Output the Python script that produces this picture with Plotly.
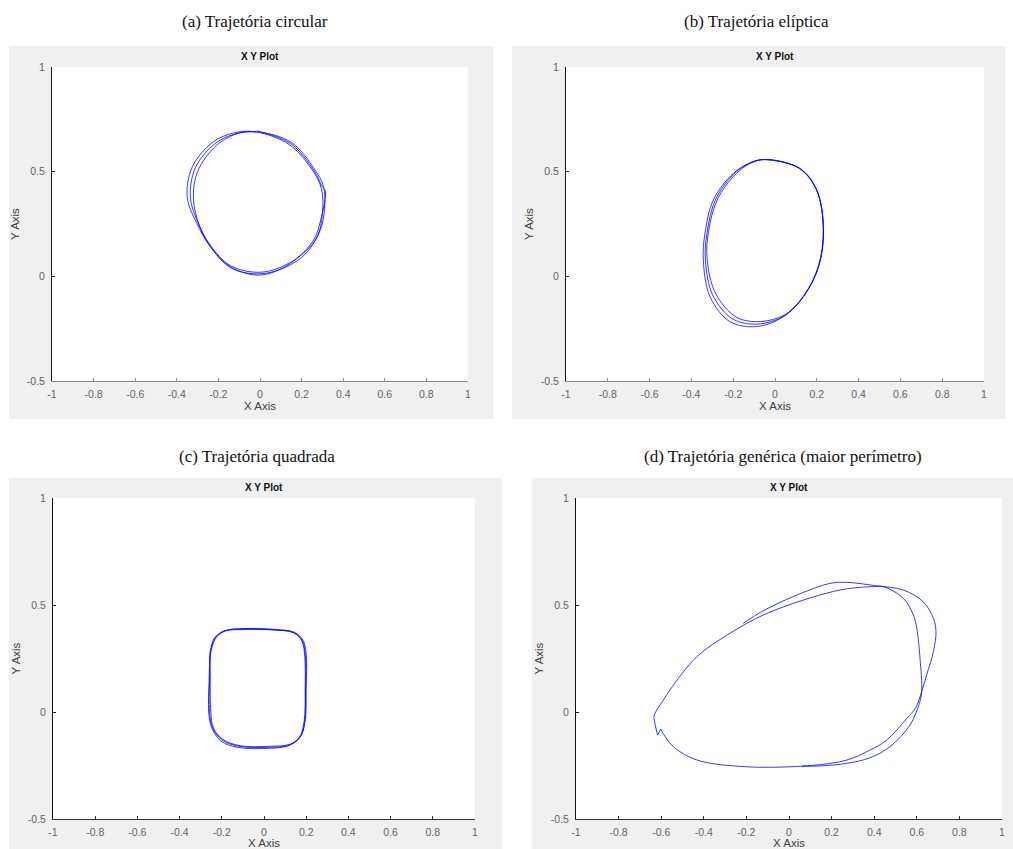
import plotly.graph_objects as go

W, H = 1013, 849

# ---------------- data ----------------
captions = ["(a) Trajetória circular", "(b) Trajetória elíptica",
            "(c) Trajetória quadrada", "(d) Trajetória genérica (maior perímetro)"]
plot_title = "X Y Plot"
x_label = "X Axis"
y_label = "Y Axis"
x_ticks = [-1, -0.8, -0.6, -0.4, -0.2, 0, 0.2, 0.4, 0.6, 0.8, 1]
x_tick_text = ["-1", "-0.8", "-0.6", "-0.4", "-0.2", "0", "0.2", "0.4", "0.6", "0.8", "1"]
y_ticks = [-0.5, 0, 0.5, 1]
y_tick_text = ["-0.5", "0", "0.5", "1"]

# (a) circular trajectory, three laps
circ_x = [-0.015, 0.146, 0.258, 0.300, 0.314, 0.292, 0.258, 0.146, 0.001, -0.143, -0.239, -0.304, -0.350, -0.325, -0.228, -0.127,
          -0.020, 0.140, 0.250, 0.295, 0.300, 0.270, 0.160, 0.010, -0.140, -0.240, -0.300, -0.335, -0.310, -0.215, -0.120,
          -0.010, 0.150, 0.260, 0.305, 0.310, 0.285, 0.200, 0.030, -0.130, -0.230, -0.290, -0.320, -0.300, -0.210, -0.100, -0.020]
circ_y = [0.695, 0.635, 0.508, 0.428, 0.410, 0.270, 0.174, 0.062, 0.006, 0.046, 0.142, 0.253, 0.380, 0.524, 0.640, 0.685,
          0.690, 0.630, 0.510, 0.420, 0.300, 0.180, 0.075, 0.020, 0.050, 0.150, 0.260, 0.380, 0.520, 0.635, 0.680,
          0.690, 0.640, 0.515, 0.430, 0.320, 0.210, 0.090, 0.015, 0.035, 0.130, 0.240, 0.370, 0.500, 0.625, 0.685, 0.690]

# (b) elliptical trajectory, three laps
elip_x = [-0.024, 0.120, 0.200, 0.231, 0.207, 0.135, 0.040, -0.088, -0.215, -0.311, -0.343, -0.335, -0.295, -0.199, -0.104,
          -0.030, 0.118, 0.200, 0.232, 0.208, 0.138, 0.045, -0.080, -0.200, -0.298, -0.333, -0.325, -0.283, -0.185, -0.095,
          -0.028, 0.119, 0.200, 0.232, 0.209, 0.140, 0.050, -0.070, -0.185, -0.285, -0.325, -0.318, -0.272, -0.170, -0.085, -0.025]
elip_y = [0.559, 0.516, 0.412, 0.221, 0.046, -0.097, -0.193, -0.240, -0.217, -0.097, 0.078, 0.206, 0.365, 0.492, 0.548,
          0.557, 0.515, 0.410, 0.220, 0.045, -0.095, -0.188, -0.228, -0.205, -0.090, 0.080, 0.210, 0.370, 0.500, 0.552,
          0.556, 0.514, 0.410, 0.220, 0.048, -0.090, -0.182, -0.216, -0.195, -0.080, 0.085, 0.215, 0.375, 0.505, 0.553, 0.558]

# (c) square trajectory, three laps
quad_x = [-0.255, -0.235, -0.190, -0.100, 0.050, 0.140, 0.180, 0.193, 0.195, 0.192, 0.170, 0.120, 0.020, -0.120, -0.200, -0.245, -0.258, -0.258,
          -0.250, -0.225, -0.180, -0.090, 0.060, 0.145, 0.185, 0.200, 0.200, 0.195, 0.175, 0.125, 0.030, -0.110, -0.195, -0.240, -0.252, -0.255,
          -0.253, -0.230, -0.185, -0.095, 0.055, 0.142, 0.182, 0.196, 0.197, 0.190, 0.168, 0.115, 0.015, -0.125, -0.205, -0.248, -0.262, -0.260, -0.256]
quad_y = [0.280, 0.345, 0.378, 0.385, 0.383, 0.370, 0.330, 0.260, 0.100, -0.050, -0.120, -0.155, -0.165, -0.160, -0.130, -0.070, 0.000, 0.150,
          0.290, 0.350, 0.380, 0.390, 0.385, 0.372, 0.335, 0.270, 0.110, -0.040, -0.110, -0.150, -0.160, -0.158, -0.128, -0.075, 0.000, 0.160,
          0.285, 0.348, 0.380, 0.388, 0.384, 0.371, 0.332, 0.265, 0.105, -0.045, -0.118, -0.157, -0.170, -0.165, -0.135, -0.072, 0.000, 0.150, 0.280]

# (d) generic trajectory (larger perimeter)
gen_x = [-0.215, -0.130, -0.042, 0.070, 0.192, 0.271, 0.350, 0.412, 0.537, 0.630, 0.678, 0.690, 0.678, 0.646, 0.623, 0.595,
         0.553, 0.459, 0.380, 0.270, 0.100, -0.199, -0.433, -0.543, -0.588, -0.602, -0.617, -0.628, -0.634, -0.621, -0.590,
         -0.559, -0.433, -0.277, -0.121, 0.067, 0.255, 0.396, 0.443, 0.537, 0.584, 0.600, 0.615, 0.623, 0.612, 0.568, 0.474,
         0.380, 0.270, 0.150, 0.060]
gen_y = [0.414, 0.468, 0.512, 0.560, 0.601, 0.606, 0.598, 0.589, 0.570, 0.515, 0.438, 0.375, 0.282, 0.173, 0.095, 0.020,
         -0.030, -0.131, -0.178, -0.225, -0.250, -0.256, -0.224, -0.162, -0.105, -0.080, -0.108, -0.060, -0.022, 0.009, 0.056,
         0.103, 0.258, 0.368, 0.453, 0.523, 0.573, 0.586, 0.586, 0.531, 0.453, 0.391, 0.251, 0.095, 0.040, -0.061, -0.162,
         -0.214, -0.240, -0.252, -0.253]
gen_corners = [25, 26]   # indices of the sharp zig-zag vertices

series = [(circ_x, circ_y), (elip_x, elip_y), (quad_x, quad_y), (gen_x, gen_y)]

# ---------------- layout (pixel boxes) ----------------
axes_px = [(52, 468, 67, 381), (566, 984, 67, 381), (53, 475, 498, 819), (576, 1002, 498, 819)]
panel_px = [(9, 493, 46, 419), (512, 1005, 46, 419), (9, 502, 478, 849), (532, 1013, 478, 849)]
caption_px = [(255, 22), (756, 22), (257, 456), (783, 456)]
xline_col = ["#8a8a8a", "#8a8a8a", "#333333", "#333333"]

fx = lambda p: p / W
fy = lambda p: 1 - p / H

fig = go.Figure()
shapes = []
annotations = []
layout = {}
line_style = dict(color="rgba(0,0,255,0.78)", width=1, shape="spline", smoothing=1)

for i in range(4):
    n = "" if i == 0 else str(i + 1)
    xs, ys = series[i]
    if i == 3:
        cuts = [0] + gen_corners + [len(xs) - 1]
        for a, b in zip(cuts[:-1], cuts[1:]):
            fig.add_trace(go.Scatter(x=xs[a:b + 1], y=ys[a:b + 1], mode="lines", xaxis="x" + n, yaxis="y" + n,
                                     line=line_style, showlegend=False, hoverinfo="skip"))
    else:
        fig.add_trace(go.Scatter(x=xs, y=ys, mode="lines", xaxis="x" + n, yaxis="y" + n,
                                 line=line_style, showlegend=False, hoverinfo="skip"))
    l, r, t, b = axes_px[i]
    tickfont = dict(family="Liberation Sans, Arial, sans-serif", size=10.5, color="#666666")
    titlefont = dict(family="Liberation Sans, Arial, sans-serif", size=11.5, color="#404040")
    layout["xaxis" + n] = dict(domain=[fx(l), fx(r)], anchor="y" + n, range=[-1, 1],
                              tickmode="array", tickvals=x_ticks, ticktext=x_tick_text,
                              ticks="inside", ticklen=3, tickcolor=xline_col[i],
                              showline=True, linecolor=xline_col[i], linewidth=1,
                              showgrid=False, zeroline=False, tickfont=tickfont,
                              ticklabelstandoff=3, automargin=False,
                              title=dict(text=x_label, font=titlefont, standoff=2),
                              fixedrange=True)
    layout["yaxis" + n] = dict(domain=[fy(b), fy(t)], anchor="x" + n, range=[-0.5, 1],
                              tickmode="array", tickvals=y_ticks, ticktext=y_tick_text,
                              ticks="inside", ticklen=3, tickcolor="#222222",
                              showline=True, linecolor="#111111", linewidth=1,
                              showgrid=False, zeroline=False, tickfont=tickfont,
                              ticklabelstandoff=4, automargin=False,
                              title=dict(text=y_label, font=titlefont, standoff=4),
                              fixedrange=True)
    pl, pr, pt, pb = panel_px[i]
    shapes.append(dict(type="rect", xref="paper", yref="paper", x0=fx(pl), x1=fx(pr), y0=fy(pb), y1=fy(pt),
                       fillcolor="#f0f0f0", line=dict(width=0), layer="below"))
    shapes.append(dict(type="rect", xref="x" + n, yref="y" + n, x0=-1, x1=1, y0=-0.5, y1=1,
                       fillcolor="white", line=dict(width=0), layer="below"))
    cx, cy = caption_px[i]
    annotations.append(dict(text=captions[i], xref="paper", yref="paper", x=fx(cx), y=fy(cy),
                            xanchor="center", yanchor="middle", showarrow=False,
                            font=dict(family="Liberation Serif, Times New Roman, serif", size=17, color="#111111")))
    annotations.append(dict(text="<b>" + plot_title + "</b>", xref="paper", yref="paper",
                            x=fx((l + r) / 2), y=fy(t - 11), xanchor="center", yanchor="middle", showarrow=False,
                            font=dict(family="Liberation Sans, Arial, sans-serif", size=10, color="#111111")))

fig.update_layout(width=W, height=H, margin=dict(l=0, r=0, t=0, b=0, pad=0, autoexpand=False),
                  paper_bgcolor="white", plot_bgcolor="white",
                  shapes=shapes, annotations=annotations, showlegend=False, **layout)

fig.write_html("out.html", config={"displayModeBar": False},
               post_script="document.body.style.margin='0px';document.body.style.padding='0px';"
                           "document.documentElement.style.overflow='hidden';")
